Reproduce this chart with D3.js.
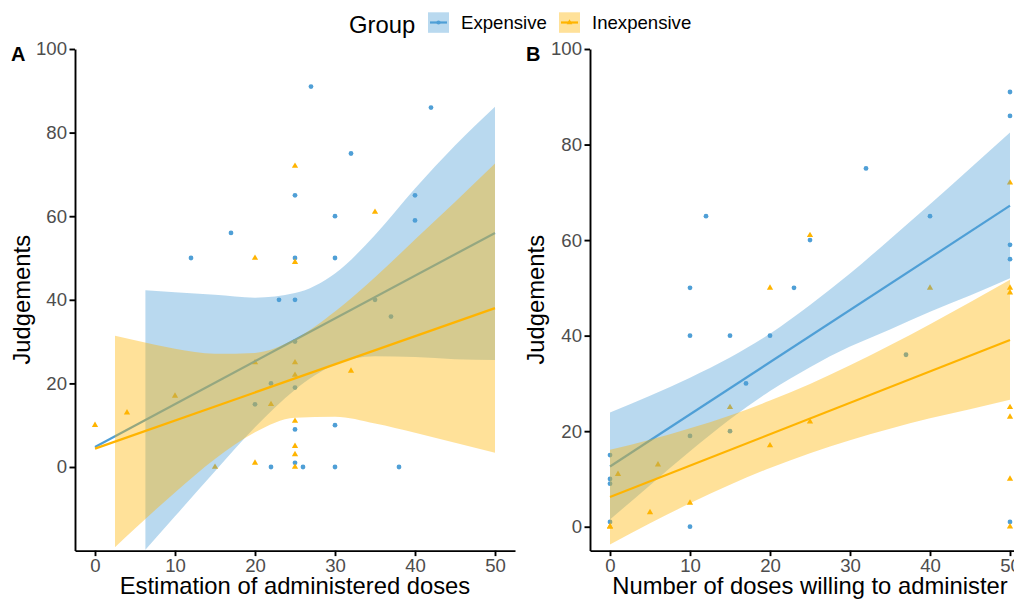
<!DOCTYPE html>
<html>
<head>
<meta charset="utf-8">
<script src="https://cdn.jsdelivr.net/npm/d3@7"></script>
<style>
  body { margin: 0; background: #fff; }
  svg { display: block; font-family: "Liberation Sans", Arial, Helvetica, sans-serif; }
</style>
</head>
<body>
<svg id="chart" width="1014" height="599"></svg>
<script>
// groups
var groups = ["Expensive", "Inexpensive"];
var xTicks = [0, 10, 20, 30, 40, 50];
var yTicks = [0, 20, 40, 60, 80, 100];

// panel A : estimation of administered doses vs judgement
var expensiveA = [[12,50],[17,56],[20,15],[22,0],[22,20],[23,40],[25,1],[25,9],[25,19],[25,30],[25,40],[25,50],
	[25,65],[26,0],[27,91],[30,0],[30,10],[30,50],[30,60],[32,75],[35,40],[37,36],[38,0],[40,59],[40,65],[42,86]];
var inexpensiveA = [[0,10],[4,13],[10,17],[15,0],[20,1],[20,25],[20,50],[22,15],[25,0],[25,3],[25,5],[25,11],
	[25,22],[25,25],[25,49],[25,72],[32,23],[35,61]];
var fitExpA = [[0,4.8],[50,56.0]];
var fitInexpA = [[0,4.4],[50,38.0]];
// [x, lower, upper]
var bandExpA = [[6.3,-19.8,42.3],[10,-11.8,41.8],[15,-1,41.2],[20,9.5,40.5],[25,18.5,41.6],[30,24.5,46.3],
	[35,26.5,55.5],[40,26.3,66.6],[45,25.8,76.9],[50,25.6,86.2]];
var bandInexpA = [[2.5,-19.2,31.4],[5,-14.7,30.3],[10,-6.1,28.3],[15,1.9,27.1],[20,8.3,27.3],[25,11.8,30.6],
	[30,12.0,37.2],[35,10.4,45.4],[40,8.2,54.4],[45,5.8,63.4],[50,3.4,72.6]];

// panel B : doses willing to administer vs judgement
var expensiveB = [[0,1],[0,9],[0,10],[0,15],[10,0],[10,19],[10,40],[10,50],[12,65],[15,20],[15,40],[17,30],
	[20,40],[23,50],[25,60],[32,75],[37,36],[40,65],[50,1],[50,56],[50,59],[50,86],[50,91]];
var inexpensiveB = [[0,0],[0,0],[1,11],[5,3],[6,13],[10,5],[15,25],[20,17],[20,50],[25,22],[25,61],[40,50],
	[50,0],[50,10],[50,23],[50,25],[50,49],[50,50],[50,72]];
var fitExpB = [[0,12.6],[50,67.2]];
var fitInexpB = [[0,6.2],[50,39.1]];
var bandExpB = [[0,1.5,23.9],[5,8.7,27.4],[10,15.8,31.2],[15,22.5,35.4],[20,28.4,40.4],[25,33.4,46.4],
	[30,37.7,53.0],[35,41.3,60.2],[40,45.0,67.5],[45,48.4,75.0],[50,52.0,82.5]];
var bandInexpB = [[0,-3.7,16.1],[5,0.7,18.2],[10,4.9,20.6],[15,8.8,23.3],[20,12.3,26.4],[25,15.4,29.9],
	[30,18.1,33.8],[35,20.5,38.0],[40,22.7,42.4],[45,24.6,47.0],[50,26.6,51.7]];

var colorOf = {Expensive: "#4f9fd6", Inexpensive: "#ffb400"};
var symbolOf = {Expensive: d3.symbolCircle, Inexpensive: d3.symbolTriangle};

var svg = d3.select("#chart");

var panels = [
	{tag: "A", left: 75, right: 515, top: 49, bottom: 550.6, yDomain: [-20, 100],
	 xTitle: "Estimation of administered doses", yTitleX: 30,
	 points: [expensiveA, inexpensiveA], fits: [fitExpA, fitInexpA], bands: [bandExpA, bandInexpA]},
	{tag: "B", left: 590, right: 1030, top: 49, bottom: 550.6, yDomain: [-5, 100],
	 xTitle: "Number of doses willing to administer", yTitleX: 544,
	 points: [expensiveB, inexpensiveB], fits: [fitExpB, fitInexpB], bands: [bandExpB, bandInexpB]}
];

panels.forEach(function(p, pi){
	var xScale = d3.scaleLinear().domain([-2.5, 52.5]).range([p.left, p.right]);
	var yScale = d3.scaleLinear().domain(p.yDomain).range([p.bottom, p.top]);

	svg.append("clipPath").attr("id", "clip" + pi)
		.append("rect")
		.attr("x", p.left).attr("y", p.top)
		.attr("width", p.right - p.left).attr("height", p.bottom - p.top);

	var g = svg.append("g").attr("clip-path", "url(#clip" + pi + ")");

	// points first, ribbons are drawn over them
	groups.forEach(function(grp, gi){
		g.selectAll("path.pt" + gi)
			.data(p.points[gi])
			.enter().append("path")
			.attr("class", "pt" + gi)
			.attr("d", d3.symbol().type(symbolOf[grp]).size(gi == 0 ? 18 : 17))
			.attr("transform", function(d){ return "translate(" + xScale(d[0]) + "," + yScale(d[1]) + ")"; })
			.attr("fill", colorOf[grp]);
	});

	var area = d3.area()
		.x(function(d){ return xScale(d[0]); })
		.y0(function(d){ return yScale(d[1]); })
		.y1(function(d){ return yScale(d[2]); })
		.curve(d3.curveMonotoneX);
	var line = d3.line()
		.x(function(d){ return xScale(d[0]); })
		.y(function(d){ return yScale(d[1]); });

	groups.forEach(function(grp, gi){
		g.append("path")
			.attr("d", area(p.bands[gi]))
			.attr("fill", colorOf[grp])
			.attr("fill-opacity", 0.4);
		g.append("path")
			.attr("d", line(p.fits[gi]))
			.attr("fill", "none")
			.attr("stroke", colorOf[grp])
			.attr("stroke-width", 2.2);
	});

	var xAxis = svg.append("g")
		.attr("transform", "translate(0," + p.bottom + ")")
		.call(d3.axisBottom(xScale).tickValues(xTicks).tickSize(5.5).tickSizeOuter(0).tickPadding(3));
	var yAxis = svg.append("g")
		.attr("transform", "translate(" + p.left + ",0)")
		.call(d3.axisLeft(yScale).tickValues(yTicks).tickSize(5.5).tickSizeOuter(0).tickPadding(2.5));

	[xAxis, yAxis].forEach(function(ax){
		ax.select(".domain").attr("stroke", "#000").attr("stroke-width", 1.9);
		ax.selectAll(".tick line").attr("stroke", "#000").attr("stroke-width", 1.9);
		ax.selectAll(".tick text").attr("fill", "#4d4d4d").style("font-size", "18.6px")
			.style("font-family", "'Liberation Sans', Arial, sans-serif");
	});

	svg.append("text")
		.attr("x", (p.left + p.right) / 2).attr("y", 594)
		.attr("text-anchor", "middle")
		.style("font-size", "23.8px").attr("fill", "#000")
		.text(p.xTitle);

	svg.append("text")
		.attr("transform", "translate(" + p.yTitleX + "," + ((p.top + p.bottom) / 2) + ") rotate(-90)")
		.attr("text-anchor", "middle")
		.style("font-size", "23.8px").attr("fill", "#000")
		.text("Judgements");

	svg.append("text")
		.attr("x", p.left - 64).attr("y", 60.5)
		.style("font-size", "20px").style("font-weight", "bold").attr("fill", "#000")
		.text(p.tag);
});

// legend
var legend = svg.append("g");
legend.append("text").attr("x", 349).attr("y", 32.5)
	.style("font-size", "23.8px").attr("fill", "#000").text("Group");
var keyX = [428, 559];
groups.forEach(function(grp, gi){
	var kx = keyX[gi];
	legend.append("rect")
		.attr("x", kx).attr("y", 12.3).attr("width", 21).attr("height", 20.5)
		.attr("fill", colorOf[grp]).attr("fill-opacity", 0.4);
	legend.append("line")
		.attr("x1", kx + 2).attr("x2", kx + 19).attr("y1", 22.5).attr("y2", 22.5)
		.attr("stroke", colorOf[grp]).attr("stroke-width", 2.2);
	legend.append("path")
		.attr("d", d3.symbol().type(symbolOf[grp]).size(14))
		.attr("transform", "translate(" + (kx + 10.5) + ",22.5)")
		.attr("fill", colorOf[grp]);
	legend.append("text")
		.attr("x", kx + 33).attr("y", 29.3)
		.style("font-size", "18.6px").attr("fill", "#000")
		.text(grp);
});
</script>
</body>
</html>
